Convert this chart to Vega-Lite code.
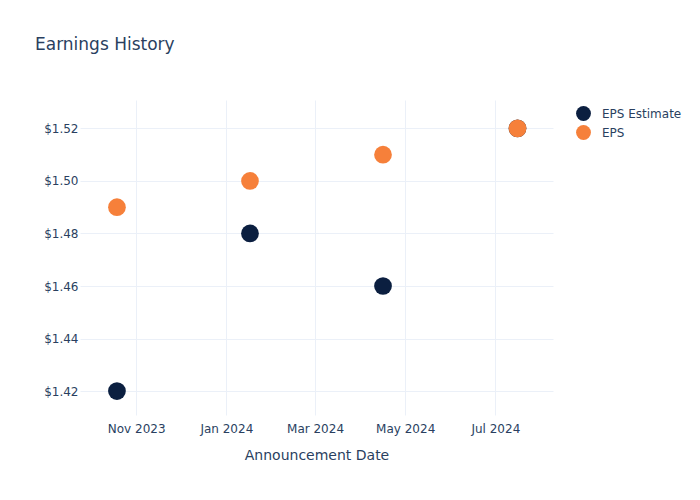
{
  "$schema": "https://vega.github.io/schema/vega-lite/v6.json",
  "autosize": "none",
  "width": 473,
  "height": 315,
  "padding": {"left": 80, "top": 100, "right": 147, "bottom": 85},
  "background": "white",
  "title": {
    "text": "Earnings History",
    "anchor": "start",
    "frame": "group",
    "dx": -45,
    "offset": 46,
    "fontSize": 17,
    "fontWeight": "normal",
    "font": "DejaVu Sans",
    "color": "#2a3f5f"
  },
  "config": {
    "font": "DejaVu Sans",
    "view": {"stroke": null}
  },
  "data": {
    "values": [
      {"date": "2023-10-19", "series": "EPS Estimate", "value": 1.42},
      {"date": "2024-01-17", "series": "EPS Estimate", "value": 1.48},
      {"date": "2024-04-16", "series": "EPS Estimate", "value": 1.46},
      {"date": "2024-07-16", "series": "EPS Estimate", "value": 1.52},
      {"date": "2023-10-19", "series": "EPS", "value": 1.49},
      {"date": "2024-01-17", "series": "EPS", "value": 1.50},
      {"date": "2024-04-16", "series": "EPS", "value": 1.51},
      {"date": "2024-07-16", "series": "EPS", "value": 1.52}
    ]
  },
  "mark": {"type": "circle", "opacity": 1, "size": 314},
  "encoding": {
    "x": {
      "field": "date",
      "type": "temporal",
      "scale": {
        "type": "utc",
        "domain": [
          {"year": 2023, "month": 9, "date": 24, "utc": true},
          {"year": 2024, "month": 8, "date": 9, "utc": true}
        ],
        "nice": false
      },
      "axis": {
        "title": "Announcement Date",
        "titleFontSize": 14,
        "titleFontWeight": "normal",
        "titleColor": "#2a3f5f",
        "titlePadding": 14,
        "tickCount": {"interval": "month", "step": 2},
        "format": "%b %Y",
        "labelFontSize": 12,
        "labelColor": "#2a3f5f",
        "labelPadding": 8,
        "ticks": false,
        "domain": false,
        "gridColor": "#ebf0f8",
        "gridWidth": 1,
        "labelFlush": false
      }
    },
    "y": {
      "field": "value",
      "type": "quantitative",
      "scale": {"domain": [1.4109, 1.5308], "nice": false, "zero": false},
      "axis": {
        "title": null,
        "values": [1.42, 1.44, 1.46, 1.48, 1.5, 1.52],
        "format": "$.2f",
        "labelFontSize": 12,
        "labelColor": "#2a3f5f",
        "labelPadding": 2,
        "ticks": false,
        "domain": false,
        "gridColor": "#ebf0f8",
        "gridWidth": 1
      }
    },
    "color": {
      "field": "series",
      "type": "nominal",
      "sort": ["EPS Estimate", "EPS"],
      "scale": {"domain": ["EPS Estimate", "EPS"], "range": ["#0b1f40", "#f6803a"]},
      "legend": {
        "title": null,
        "orient": "none",
        "legendX": 495,
        "legendY": 5,
        "symbolType": "circle",
        "symbolSize": 220,
        "symbolOpacity": 1,
        "labelFontSize": 12,
        "labelColor": "#2a3f5f",
        "rowPadding": 3,
        "labelOffset": 10
      }
    },
    "order": {"field": "series", "sort": "descending"}
  }
}
